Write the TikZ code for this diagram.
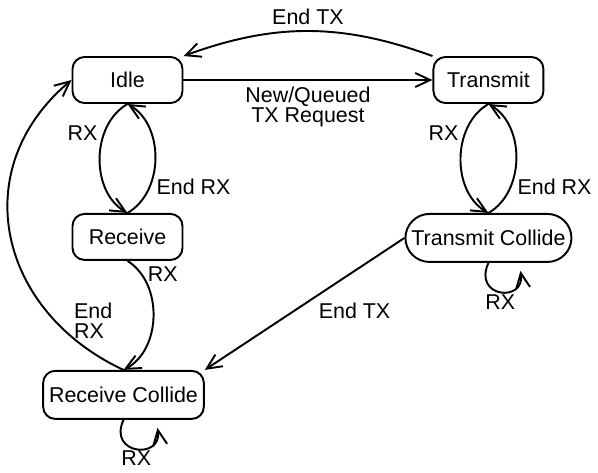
\documentclass[tikz,border=0pt]{standalone}
\usepackage{fontspec}
\setmainfont{Liberation Sans}
\usetikzlibrary{arrows.meta, positioning}

\begin{document}
\begin{tikzpicture}[
            >={Straight Barb[length=3mm, width=2.8mm]},
            line width=1.1pt,
            font=\fontsize{12.2}{11.4}\selectfont,
            box/.style={draw, rounded corners=0.24cm, minimum width=2.2cm, minimum height=0.92cm},
            widebox/.style={box, minimum width=3.2cm, minimum height=0.96cm},
            pill/.style={draw, rounded corners=0.48cm, minimum width=3.32cm, minimum height=0.96cm, inner xsep=0pt}
        ]

            \useasboundingbox (0,0) rectangle (11.96,-9.44);

            \node[box] (idle) at (2.55,-1.6) {Idle};
            \node[box] (transmit) [right=4.98cm of idle] {Transmit};

            \node[box] (receive) [below=2.18cm of idle] {Receive};
            \node[pill] (tcollide) [below=2.18cm of transmit] {Transmit Collide};

            \node[widebox] (rcollide) [below=2.18cm of receive, xshift=-0.08cm] {Receive Collide};

            % free ends of the two self loops
            \coordinate (tcend) at ([xshift=0.64cm, yshift=-0.16cm]tcollide.south);
            \coordinate (rcend) at ([xshift=0.68cm, yshift=-0.16cm]rcollide.south);

            \path[->]
            (idle) edge node[below, align=center] {New/Queued\\TX Request} (transmit)
            (transmit.north west) edge [bend right=20] node[above] {End TX} (idle.north east)

            (idle.south) edge [bend right=60] node[left, pos=0.3] {RX} (receive.north)
            (receive.north) edge [bend right=60] node[right, pos=0.28] {End RX} (idle.south)

            (transmit.south) edge [bend right=60] node[left, pos=0.3] {RX} (tcollide.north)
            (tcollide.north) edge [bend right=60] node[right, pos=0.28] {End RX} (transmit.south)

            (receive.south) edge [bend left=60] node[right, pos=0.15] {RX} (rcollide.north)
            (rcollide.north) edge [out=155, in=220, looseness=1.2] node[right, pos=0.22, align=left, xshift=0.25cm] {End\\RX} (idle.west)

            (tcollide.west) edge node[pos=0.25, below=0.5cm] {End TX} (rcollide.north east);

            \draw[->] (tcollide.south) .. controls +(-0.32,-0.7) and +(0.1,-0.64) .. (tcend) node[pos=0.5, below, inner sep=1pt] {RX};
            \draw[->] (rcollide.south) .. controls +(-0.32,-0.7) and +(0.1,-0.64) .. (rcend) node[pos=0.5, below, inner sep=0.5pt] {RX};

        \end{tikzpicture}
\end{document}
